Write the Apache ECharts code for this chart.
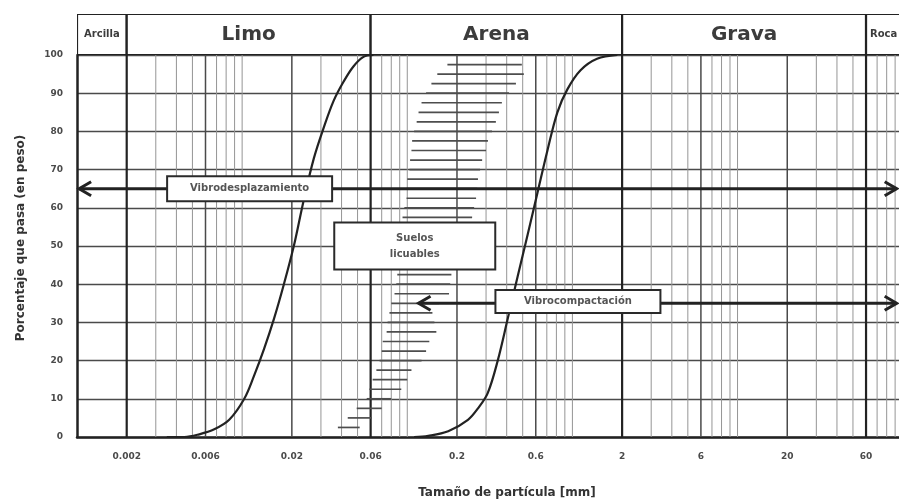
<!DOCTYPE html>
<html>
<head>
<meta charset="utf-8">
<script src="https://cdn.jsdelivr.net/npm/echarts@6/dist/echarts.min.js"></script>
<style>
  html, body { margin: 0; padding: 0; background: #fff; }
  #chart { width: 899px; height: 504px; }
</style>
</head>
<body>
<div id="chart"></div>
<script>
// Soil classes and their size limits (mm)
const soilClasses = ['Arcilla', 'Limo', 'Arena', 'Grava', 'Roca'];
const soilBounds = [0.001, 0.002, 0.06, 2, 60, 1000];

// Axis ticks
const xTickValues = [0.002, 0.006, 0.02, 0.06, 0.2, 0.6, 2, 6, 20, 60];
const xTickLabels = ['0.002', '0.006', '0.02', '0.06', '0.2', '0.6', '2', '6', '20', '60'];
const yTickValues = [0, 10, 20, 30, 40, 50, 60, 70, 80, 90, 100];

// Fine-side grading limit (size mm, % passing)
const finesSize = [0.0035, 0.00447, 0.0055, 0.00678, 0.00835, 0.0103, 0.0118, 0.01356, 0.0156, 0.0179,
                   0.02056, 0.0236, 0.0272, 0.0312, 0.0358, 0.0411, 0.0472, 0.0543, 0.0624];
const finesPassing = [0, 0, 0.7, 2, 4.5, 10, 16, 23, 31, 40, 50, 62, 73, 81, 88, 93, 97, 99.5, 100];

// Coarse-side grading limit (size mm, % passing)
const coarseSize = [0.11, 0.134, 0.177, 0.233, 0.268, 0.307, 0.353, 0.406, 0.466, 0.536, 0.615,
                    0.706, 0.811, 0.932, 1.12, 1.41, 1.87];
const coarsePassing = [0, 0.3, 1.5, 4.5, 7.5, 11.5, 20, 31, 42, 53, 64, 75, 85, 91, 96, 99, 100];

// Liquefiable soils band: % passing, smallest and largest size (mm)
const liqPassing = [2.5, 5, 7.5, 10, 12.5, 15, 17.5, 20, 22.5, 25, 27.5, 30, 32.5, 35, 37.5, 40, 42.5,
                    45, 47.5, 50, 52.5, 55, 57.5, 60, 62.5, 65, 67.5, 70, 72.5, 75, 77.5, 80, 82.5,
                    85, 87.5, 90, 92.5, 95, 97.5];
const liqSizeMin = [0.038, 0.0436, 0.0494, 0.0568, 0.059, 0.0617, 0.065, 0.068, 0.070, 0.071, 0.075,
                    0.076, 0.078, 0.080, 0.0837, 0.0858, 0.087, 0.087, 0.087, 0.088, 0.089, 0.091,
                    0.0936, 0.096, 0.099, 0.099, 0.100, 0.103, 0.104, 0.106, 0.107, 0.110, 0.114,
                    0.117, 0.122, 0.130, 0.140, 0.152, 0.175];
const liqSizeMax = [0.0515, 0.061, 0.070, 0.080, 0.092, 0.100, 0.106, 0.122, 0.130, 0.136, 0.150,
                    0.146, 0.142, 0.156, 0.179, 0.182, 0.185, 0.198, 0.212, 0.227, 0.234, 0.241,
                    0.247, 0.254, 0.261, 0.265, 0.268, 0.276, 0.284, 0.300, 0.308, 0.326, 0.344,
                    0.359, 0.374, 0.413, 0.455, 0.508, 0.494];

// Treatment methods and their application range
const methods = ['Vibrodesplazamiento', 'Vibrocompactación'];
const methodPassing = [65, 35];
const methodSizeMin = [0.00103, 0.117];
const methodSizeMax = [92, 92];

const FONT = 'DejaVu Sans';
const INK = '#222';
const TEXT = '#3c3c3c';

const same = (a, b) => Math.abs(a - b) < b * 1e-6;

// Vertical rulings of the log paper: 1..9 per decade
const rulings = [];
[0.001, 0.01, 0.1, 1, 10].forEach(d => {
  for (let m = 1; m <= 9; m++) {
    const v = +(d * m).toPrecision(3);
    if (v <= 0.001) continue;
    const w = soilBounds.some(b => same(v, b)) ? 2 : (xTickValues.some(t => same(v, t)) ? 1 : 0);
    rulings.push([v, 0, w]);
  }
});
const rulingStyle = [
  { stroke: '#959595', lineWidth: 1 },
  { stroke: '#4a4a4a', lineWidth: 1.5 },
  { stroke: INK, lineWidth: 2.2 }
];

// Annotation boxes: anchor (size mm, % passing) and box size in px
const boxes = [
  { at: [0.0111, 65], w: 165, h: 25, text: methods[0] },
  { at: [0.111, 50], w: 161, h: 47, text: 'Suelos\nlicuables' },
  { at: [1.08, 35.5], w: 165, h: 23, text: methods[1] }
];

// The paper runs on past the right edge, so the axis stops short of 100 mm
const X_MIN = 0.001, X_MAX = 95;

const option = {
  animation: false,
  backgroundColor: '#fff',
  grid: [
    { left: 77, right: 0, top: 55, bottom: 67 },
    { left: 77, right: 0, top: 14, height: 41 }
  ],
  xAxis: [
    {
      type: 'log', logBase: 10, min: X_MIN, max: X_MAX, gridIndex: 0,
      axisLine: { show: true, lineStyle: { color: INK, width: 2.5 } },
      axisTick: { show: false }, axisLabel: { show: false }, splitLine: { show: false }
    },
    {
      type: 'log', logBase: 10, min: X_MIN, max: X_MAX, gridIndex: 1, show: false
    }
  ],
  yAxis: [
    {
      type: 'value', min: 0, max: 100, interval: 10, gridIndex: 0,
      axisLine: { show: true, lineStyle: { color: INK, width: 2.5 } },
      axisTick: { show: false },
      axisLabel: {
        margin: 14, fontSize: 9, fontWeight: 'bold', fontFamily: FONT, color: '#4a4a4a',
        formatter: v => (yTickValues.includes(v) ? String(v) : '')
      },
      splitLine: { show: true, lineStyle: { color: '#4a4a4a', width: 1.4 } }
    },
    { type: 'value', min: 0, max: 1, gridIndex: 1, show: false }
  ],
  graphic: [
    {
      type: 'text', x: 21, y: 238, rotation: Math.PI / 2,
      style: {
        text: 'Porcentaje que pasa (en peso)', align: 'center', verticalAlign: 'middle',
        fontSize: 12, fontWeight: 'bold', fontFamily: FONT, fill: '#333'
      }
    },
    {
      type: 'text', x: 507, y: 493,
      style: {
        text: 'Tamaño de partícula [mm]', align: 'center', verticalAlign: 'middle',
        fontSize: 12, fontWeight: 'bold', fontFamily: FONT, fill: '#333'
      }
    }
  ],
  series: [
    // log-paper rulings
    {
      type: 'custom', xAxisIndex: 0, yAxisIndex: 0, z: 1, silent: true,
      encode: { x: 0, y: 1 },
      data: rulings,
      renderItem(params, api) {
        const v = api.value(0);
        const top = api.coord([v, 100]);
        const bot = api.coord([v, 0]);
        return {
          type: 'line',
          shape: { x1: top[0], y1: top[1], x2: bot[0], y2: bot[1] },
          style: rulingStyle[api.value(2)]
        };
      }
    },
    // x tick labels
    {
      type: 'custom', xAxisIndex: 0, yAxisIndex: 0, z: 1, silent: true, clip: false,
      encode: { x: 0, y: 1 },
      data: xTickValues.map((v, i) => [v, 0, i]),
      renderItem(params, api) {
        const p = api.coord([api.value(0), 0]);
        return {
          type: 'text',
          style: {
            text: xTickLabels[api.value(2)], x: p[0], y: p[1] + 20,
            align: 'center', verticalAlign: 'middle',
            fontSize: 9, fontWeight: 'bold', fontFamily: FONT, fill: '#4a4a4a'
          }
        };
      }
    },
    // header with soil classes
    {
      type: 'custom', xAxisIndex: 1, yAxisIndex: 1, z: 2, silent: true, clip: true,
      encode: { x: [0, 2], y: 1 },
      data: soilClasses.map((n, i) => [soilBounds[i], 0.5, soilBounds[i + 1], i]),
      renderItem(params, api) {
        const i = api.value(3);
        const x1 = api.coord([api.value(0), 0.5])[0];
        const x2 = api.coord([api.value(2), 0.5])[0];
        const cs = params.coordSys;
        const last = i === soilClasses.length - 1;
        const small = i === 0 || last;
        return {
          type: 'group',
          children: [
            {
              type: 'rect',
              shape: { x: x1, y: cs.y, width: x2 - x1, height: cs.height },
              style: { fill: '#fff', stroke: INK, lineWidth: 2.2 }
            },
            {
              type: 'text',
              style: {
                text: soilClasses[i],
                x: last ? x1 + 4 : (x1 + x2) / 2, y: cs.y + cs.height / 2,
                align: last ? 'left' : 'center', verticalAlign: 'middle',
                fontSize: small ? 10 : 20, fontWeight: 'bold', fontFamily: FONT, fill: TEXT
              }
            }
          ]
        };
      }
    },
    // liquefiable soils band
    {
      type: 'custom', xAxisIndex: 0, yAxisIndex: 0, z: 2, silent: true,
      encode: { x: [0, 2], y: 1 },
      data: liqPassing.map((p, i) => [liqSizeMin[i], p, liqSizeMax[i]]),
      renderItem(params, api) {
        const a = api.coord([api.value(0), api.value(1)]);
        const b = api.coord([api.value(2), api.value(1)]);
        return {
          type: 'line',
          shape: { x1: a[0], y1: a[1], x2: b[0], y2: b[1] },
          style: { stroke: '#4d4d4d', lineWidth: 1.7 }
        };
      }
    },
    // grading limit curves
    {
      type: 'line', xAxisIndex: 0, yAxisIndex: 0, z: 3, silent: true,
      data: finesSize.map((s, i) => [s, finesPassing[i]]),
      smooth: 0.35, showSymbol: false, symbol: 'none',
      lineStyle: { color: INK, width: 2.2 }
    },
    {
      type: 'line', xAxisIndex: 0, yAxisIndex: 0, z: 3, silent: true,
      data: coarseSize.map((s, i) => [s, coarsePassing[i]]),
      smooth: 0.35, showSymbol: false, symbol: 'none',
      lineStyle: { color: INK, width: 2.2 }
    },
    // treatment ranges as double arrows
    {
      type: 'custom', xAxisIndex: 0, yAxisIndex: 0, z: 4, silent: true, clip: false,
      encode: { x: [0, 2], y: 1 },
      data: methods.map((m, i) => [methodSizeMin[i], methodPassing[i], methodSizeMax[i]]),
      renderItem(params, api) {
        const a = api.coord([api.value(0), api.value(1)]);
        const b = api.coord([api.value(2), api.value(1)]);
        const L = 12, H = 7;
        const st = { stroke: INK, lineWidth: 3, fill: null, lineJoin: 'miter' };
        return {
          type: 'group',
          children: [
            { type: 'line', shape: { x1: a[0], y1: a[1], x2: b[0], y2: b[1] }, style: st },
            { type: 'polyline', shape: { points: [[a[0] + L, a[1] - H], [a[0], a[1]], [a[0] + L, a[1] + H]] }, style: st },
            { type: 'polyline', shape: { points: [[b[0] - L, b[1] - H], [b[0], b[1]], [b[0] - L, b[1] + H]] }, style: st }
          ]
        };
      }
    },
    // annotation boxes
    {
      type: 'custom', xAxisIndex: 0, yAxisIndex: 0, z: 5, silent: true, clip: false,
      encode: { x: 0, y: 1 },
      data: boxes.map(b => b.at),
      renderItem(params, api) {
        const bx = boxes[params.dataIndex];
        const c = api.coord([api.value(0), api.value(1)]);
        return {
          type: 'group',
          children: [
            {
              type: 'rect',
              shape: { x: c[0] - bx.w / 2, y: c[1] - bx.h / 2, width: bx.w, height: bx.h },
              style: { fill: '#fff', stroke: '#2a2a2a', lineWidth: 2 }
            },
            {
              type: 'text',
              style: {
                text: bx.text, x: c[0], y: c[1], align: 'center', verticalAlign: 'middle',
                fontSize: 10, fontWeight: 'bold', fontFamily: FONT, fill: '#555', lineHeight: 16
              }
            }
          ]
        };
      }
    }
  ]
};

const chart = echarts.init(document.getElementById('chart'));
chart.setOption(option);
</script>
</body>
</html>
